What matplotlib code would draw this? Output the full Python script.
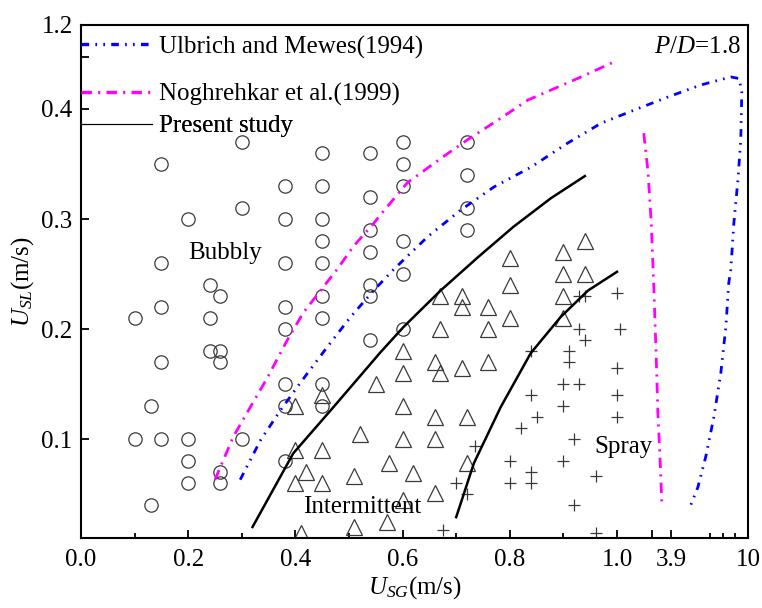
import numpy as np
import matplotlib
matplotlib.use("Agg")
import matplotlib.pyplot as plt
from matplotlib.lines import Line2D
from matplotlib.ticker import FixedLocator, FixedFormatter

plt.rcParams["font.family"] = ["Liberation Serif", "DejaVu Serif"]
plt.rcParams["mathtext.fontset"] = "custom"
plt.rcParams["mathtext.rm"] = "Liberation Serif"
plt.rcParams["mathtext.it"] = "Liberation Serif:italic"
plt.rcParams["lines.scale_dashes"] = False

# ---- data (U_SG, U_SL in m/s) ----
bubbly_x = [0.30, 0.15, 0.45, 0.54, 0.38, 0.45, 0.54, 0.30, 0.20, 0.38, 0.45, 0.45,
            0.54, 0.54, 0.15, 0.38, 0.45, 0.24, 0.26, 0.54, 0.54, 0.15, 0.38, 0.45,
            0.45, 0.10, 0.24, 0.38, 0.54, 0.24, 0.26, 0.26, 0.15, 0.38, 0.45, 0.38,
            0.45, 0.13, 0.10, 0.15, 0.20, 0.30, 0.20, 0.38, 0.26, 0.20, 0.26, 0.13,
            0.60, 0.60, 0.60, 0.60, 0.60, 0.60, 0.72, 0.72, 0.72, 0.72]
bubbly_y = [0.37, 0.35, 0.36, 0.36, 0.33, 0.33, 0.32, 0.31, 0.30, 0.30, 0.30, 0.28,
            0.29, 0.27, 0.26, 0.26, 0.26, 0.24, 0.23, 0.24, 0.23, 0.22, 0.22, 0.23,
            0.21, 0.21, 0.21, 0.20, 0.19, 0.18, 0.18, 0.17, 0.17, 0.15, 0.15, 0.13,
            0.13, 0.13, 0.10, 0.10, 0.10, 0.10, 0.08, 0.08, 0.07, 0.06, 0.06, 0.04,
            0.37, 0.35, 0.33, 0.28, 0.25, 0.20, 0.37, 0.34, 0.31, 0.29]

inter_x = [0.40, 0.45, 0.55, 0.40, 0.45, 0.52, 0.42, 0.40, 0.45, 0.51, 0.41, 0.51,
           0.57, 0.60, 0.66, 0.575, 0.62, 0.72, 0.60, 0.66, 0.60, 0.66, 0.72, 0.60,
           0.67, 0.71, 0.66, 0.76, 0.60, 0.67, 0.76, 0.80, 0.90, 0.71, 0.76, 0.67,
           0.71, 0.90, 0.80, 0.90, 0.94, 0.80, 0.90, 0.94]
inter_y = [0.13, 0.14, 0.15, 0.09, 0.09, 0.105, 0.07, 0.06, 0.06, 0.066, 0.015, 0.02,
           0.025, 0.045, 0.051, 0.078, 0.069, 0.078, 0.10, 0.10, 0.13, 0.12, 0.12, 0.16,
           0.16, 0.165, 0.17, 0.17, 0.18, 0.20, 0.20, 0.21, 0.21, 0.22, 0.22, 0.23,
           0.23, 0.23, 0.24, 0.25, 0.25, 0.265, 0.27, 0.28]

spray_x = [0.93, 0.94, 1.00, 0.93, 1.006, 0.94, 0.84, 0.91, 0.91, 1.00, 0.90, 0.93,
           0.84, 1.00, 0.90, 0.85, 1.00, 0.82, 0.92, 0.735, 0.80, 0.90, 0.84, 0.96,
           0.70, 0.80, 0.84, 0.72, 0.92, 0.675, 0.96]
spray_y = [0.23, 0.23, 0.233, 0.20, 0.20, 0.19, 0.18, 0.18, 0.17, 0.165, 0.15, 0.15,
           0.14, 0.14, 0.13, 0.12, 0.12, 0.11, 0.10, 0.094, 0.08, 0.08, 0.07, 0.066,
           0.06, 0.06, 0.06, 0.05, 0.04, 0.017, 0.015]

# Ulbrich and Mewes (1994)
ulb_x = [0.297, 0.335, 0.372, 0.409, 0.460, 0.503, 0.546, 0.583, 0.647, 0.708, 0.770,
         0.839, 0.908, 0.970, 1.032, 3.66, 6.27, 8.64, 9.30, 9.51, 9.43, 9.20, 8.88,
         8.64, 8.48, 8.25, 7.85, 7.30, 6.66, 6.03, 5.40]
ulb_y = [0.063, 0.099, 0.126, 0.151, 0.184, 0.211, 0.235, 0.254, 0.284, 0.308, 0.329,
         0.347, 0.369, 0.387, 0.399, 0.514, 0.629, 0.705, 0.69, 0.562, 0.372, 0.335,
         0.296, 0.254, 0.242, 0.202, 0.160, 0.120, 0.084, 0.056, 0.038]

# Noghrehkar et al. (1999)
nog1_x = [0.250, 0.284, 0.316, 0.348, 0.385, 0.415, 0.447, 0.479, 0.508, 0.546, 0.559,
          0.609, 0.671, 0.721, 0.778, 0.834, 0.877, 0.933, 0.998]
nog1_y = [0.063, 0.102, 0.129, 0.156, 0.190, 0.215, 0.235, 0.255, 0.275, 0.296, 0.304,
          0.333, 0.355, 0.372, 0.390, 0.486, 0.581, 0.705, 0.857]
nog2_x = [1.050, 1.058, 1.064, 2.55, 2.71, 2.87, 3.02, 3.18]
nog2_y = [0.378, 0.342, 0.296, 0.237, 0.184, 0.124, 0.087, 0.043]

# present study transition boundaries
b1_x = [0.32, 0.396, 0.471, 0.559, 0.602, 0.671, 0.740, 0.807, 0.877, 0.940]
b1_y = [0.02, 0.087, 0.129, 0.179, 0.202, 0.235, 0.265, 0.293, 0.319, 0.339]
b2_x = [0.70, 0.733, 0.783, 0.839, 0.895, 0.946, 1.00]
b2_y = [0.029, 0.078, 0.129, 0.178, 0.211, 0.235, 0.252]

x_major = [0.0, 0.2, 0.4, 0.6, 0.8, 1.0, 2.43, 3.9, 10]
x_major_labels = ["0.0", "0.2", "0.4", "0.6", "0.8", "1.0", "", "3.9", "10"]
x_minor = [0.1, 0.3, 0.5, 0.7, 0.9, 7, 8, 9]
y_major = [0.1, 0.2, 0.3, 0.4, 0.895, 1.2]
y_major_labels = ["0.1", "0.2", "0.3", "0.4", "", "1.2"]

# broken axes, done as piecewise linear scales
XK = [0.0, 1.065, 2.43, 10.0]
XU = [0.0, 570.0, 570.5, 666.0]
YK = [0.01, 0.4, 1.2]
YU = [0.0, 429.0, 513.0]


def fx(v):
    return np.interp(v, XK, XU)


def ix(v):
    return np.interp(v, XU, XK)


def fy(v):
    return np.interp(v, YK, YU)


def iy(v):
    return np.interp(v, YU, YK)


FS = 18
blue_ls = (0, (5.5, 4.5, 1.2, 4.5, 1.2, 4.5))
pink_ls = (0, (7.5, 4.5, 1.5, 4.5))

fig = plt.figure(figsize=(7.62, 6.08), dpi=100)
ax = fig.add_axes([0.1063, 0.1151, 0.8753, 0.8438])
ax.set_xscale("function", functions=(fx, ix))
ax.set_yscale("function", functions=(fy, iy))

mk = dict(ls="none", mfc="none", mec="#3a3a3a", mew=0.9)
ax.plot(bubbly_x, bubbly_y, marker="o", ms=9.6, **mk)
ax.plot(inter_x, inter_y, marker="^", ms=11.5, **mk)
ax.plot(spray_x, spray_y, marker="+", ms=9, **mk)

ax.plot(ulb_x, ulb_y, color="#0000ff", lw=2.0, ls=blue_ls)
ax.plot(nog1_x, nog1_y, color="#ff00ff", lw=2.0, ls=pink_ls)
ax.plot(nog2_x, nog2_y, color="#ff00ff", lw=2.0, ls=pink_ls)
ax.plot(b1_x, b1_y, color="black", lw=1.8)
ax.plot(b2_x, b2_y, color="black", lw=1.8)

ax.set_xlim(0, 10)
ax.set_ylim(0.01, 1.2)

ax.xaxis.set_major_locator(FixedLocator(x_major))
ax.xaxis.set_major_formatter(FixedFormatter(x_major_labels))
ax.xaxis.set_minor_locator(FixedLocator(x_minor))
ax.yaxis.set_major_locator(FixedLocator(y_major))
ax.yaxis.set_major_formatter(FixedFormatter(y_major_labels))
ax.yaxis.set_minor_locator(FixedLocator([]))
ax.tick_params(which="both", direction="in", width=1.3, labelsize=FS)
ax.tick_params(which="major", length=6)
ax.tick_params(which="minor", length=3.5)
ax.tick_params(axis="x", pad=8)
ax.tick_params(axis="y", pad=6)
for s in ax.spines.values():
    s.set_linewidth(1.5)

ax.set_xlabel(r"$U_{SG}$(m/s)", fontsize=FS, labelpad=2)
ax.set_ylabel(r"$U_{SL}$(m/s)", fontsize=FS, labelpad=4)

ax.text(0.269, 0.269, "Bubbly", fontsize=FS, ha="center", va="center")
ax.text(0.525, 0.038, "Intermittent", fontsize=FS, ha="center", va="center")
ax.text(1.013, 0.093, "Spray", fontsize=FS, ha="center", va="center")
ax.text(0.99, 0.957, r"$P/D$=1.8", fontsize=FS, ha="right", va="center",
        transform=ax.transAxes)

# legend rows sit unevenly in the original, so one legend per row
entries = [
    (Line2D([], [], color="#0000ff", lw=2.4, ls=blue_ls), "Ulbrich and Mewes(1994)", 0.957),
    (Line2D([], [], color="#ff00ff", lw=2.4, ls=pink_ls), "Noghrehkar et al.(1999)", 0.864),
    (Line2D([], [], color="black", lw=0.8), "Present study", 0.803),
]
for h, lab, yy in entries:
    leg = ax.legend([h], [lab], loc="center left", bbox_to_anchor=(0.0, yy),
                    frameon=False, fontsize=FS, handlelength=2.85,
                    handletextpad=0.25, borderpad=0, borderaxespad=0)
    ax.add_artist(leg)

fig.savefig("out.png", dpi=100)
